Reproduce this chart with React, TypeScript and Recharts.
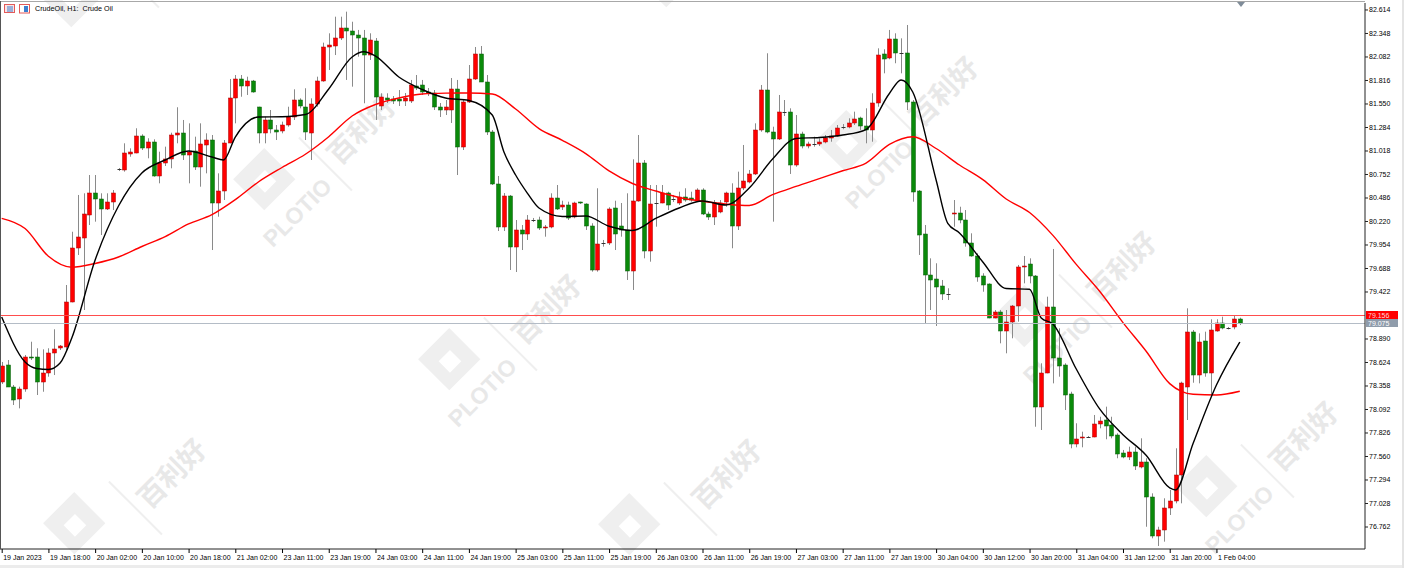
import { Bar, ComposedChart, Line, ReferenceLine, XAxis, YAxis } from "recharts";

// CrudeOil H1 bars (bar 0 = 19 Jan 10:00)
const opens = [
  78.407, 78.596, 78.35, 78.207, 78.321, 78.69, 78.683, 78.407, 78.502, 78.728,
  78.788, 78.803, 79.305, 79.923, 80.03, 80.293, 80.546, 80.471, 80.358, 80.444,
  80.811, 80.803, 80.984, 80.999, 81.191, 81.048, 81.123, 80.735, 80.879, 80.924,
  81.196, 81.218, 80.973, 81.021, 80.84, 81.086, 81.142, 80.433, 80.565, 81.105,
  81.621, 81.833, 81.754, 81.81, 81.513, 81.218, 81.369, 81.256, 81.244, 81.312,
  81.406, 81.595, 81.519, 81.225, 81.546, 81.81, 82.192, 82.206, 82.3, 82.413,
  82.38, 82.331, 82.293, 82.104, 82.266, 81.527, 81.621, 81.606, 81.61, 81.584,
  81.584, 81.754, 81.765, 81.689, 81.671, 81.519, 81.482, 81.482, 81.72, 81.06,
  81.576, 81.829, 82.116, 81.802, 81.23, 80.644, 80.161, 80.512, 79.935, 80.124,
  80.078, 80.237, 80.237, 80.143, 80.161, 80.489, 80.381, 80.407, 80.267, 80.441,
  80.418, 80.172, 79.671, 79.973, 79.973, 80.369, 80.169, 80.124, 79.663, 80.452,
  80.879, 79.889, 80.433, 80.433, 80.539, 80.475, 80.426, 80.501, 80.482, 80.455,
  80.576, 80.305, 80.267, 80.331, 80.444, 80.539, 80.169, 80.596, 80.67, 80.758,
  81.256, 81.708, 81.236, 81.15, 81.463, 81.463, 80.859, 81.21, 81.074, 81.097,
  81.094, 81.116, 81.162, 81.188, 81.293, 81.293, 81.331, 81.388, 81.301, 81.256,
  81.558, 82.112, 82.067, 82.286, 82.131, 82.131, 81.576, 80.568, 80.075, 79.614,
  79.566, 79.493, 79.399, 80.301, 80.313, 80.237, 79.98, 79.833, 79.603, 79.509,
  79.131, 79.192, 78.984, 79.086, 79.263, 79.708, 79.735, 79.603, 78.124, 78.508,
  79.249, 78.671, 78.596, 78.267, 77.701, 77.766, 77.784, 77.784, 77.928, 77.973,
  77.916, 77.803, 77.596, 77.558, 77.607, 77.444, 77.501, 77.105, 76.66, 76.728,
  76.974, 77.056, 77.351, 78.343, 78.973, 78.482, 78.867, 78.502, 78.984, 79.068,
  79.011, 79.022, 79.116,
];

const highs = [
  78.63, 78.652, 78.369, 78.35, 78.709, 78.859, 78.785, 78.773, 78.785, 79.0,
  78.822, 79.501, 80.104, 80.52, 80.539, 80.746, 80.746, 80.539, 80.539, 80.576,
  80.825, 81.105, 81.048, 81.275, 81.207, 81.162, 81.15, 81.01, 81.067, 81.225,
  81.513, 81.369, 81.331, 81.18, 81.331, 81.218, 81.199, 80.765, 81.142, 81.833,
  81.878, 81.878, 81.859, 81.822, 81.519, 81.406, 81.482, 81.312, 81.35, 81.519,
  81.716, 81.614, 81.728, 81.614, 81.859, 82.244, 82.35, 82.538, 82.538, 82.595,
  82.481, 82.388, 82.388, 82.35, 82.297, 81.671, 81.671, 81.64, 81.708, 81.674,
  81.822, 81.878, 81.822, 81.731, 81.708, 81.561, 81.595, 81.844, 81.822, 81.595,
  81.991, 82.195, 82.206, 81.878, 81.256, 80.735, 80.542, 80.52, 80.237, 80.18,
  80.293, 80.26, 80.274, 80.18, 80.539, 80.633, 80.455, 80.444, 80.444, 80.444,
  80.426, 80.2, 80.596, 80.011, 80.381, 80.455, 80.429, 80.539, 80.924, 81.199,
  80.916, 80.633, 80.633, 80.633, 80.557, 80.52, 80.557, 80.596, 80.557, 80.596,
  80.596, 80.331, 80.463, 80.463, 80.557, 80.652, 80.784, 81.086, 80.803, 81.331,
  81.765, 82.124, 81.293, 81.652, 81.595, 81.501, 81.425, 81.236, 81.123, 81.18,
  81.162, 81.199, 81.256, 81.312, 81.323, 81.388, 81.463, 81.406, 81.501, 81.671,
  82.18, 82.169, 82.388, 82.35, 82.293, 82.444, 81.595, 80.576, 80.18, 79.803,
  79.747, 79.558, 79.464, 80.463, 80.387, 80.35, 80.086, 79.86, 79.634, 79.52,
  79.218, 79.218, 79.218, 79.275, 79.728, 79.829, 79.803, 79.614, 78.615, 79.369,
  79.909, 79.011, 78.615, 78.293, 77.936, 77.841, 77.792, 78.03, 78.01, 78.124,
  78.01, 77.823, 77.634, 77.671, 77.671, 77.766, 77.54, 77.143, 76.765, 77.087,
  77.181, 77.653, 78.407, 79.237, 78.992, 78.954, 78.973, 79.113, 79.113, 79.142,
  79.026, 79.161, 79.131,
];

const lows = [
  78.381, 78.35, 78.143, 78.105, 78.293, 78.652, 78.256, 78.293, 78.463, 78.482,
  78.765, 78.765, 79.305, 79.841, 79.218, 80.18, 80.218, 80.067, 80.35, 80.35,
  80.791, 80.784, 80.953, 80.992, 81.029, 80.935, 80.727, 80.652, 80.848, 80.822,
  81.105, 80.916, 80.652, 80.803, 80.614, 80.765, 79.897, 80.274, 80.463, 81.105,
  81.331, 81.632, 81.652, 81.678, 81.105, 81.105, 81.218, 81.142, 81.218, 81.293,
  81.369, 81.501, 81.142, 80.916, 81.519, 81.802, 81.935, 82.104, 82.274, 81.822,
  81.746, 82.085, 81.558, 82.048, 81.369, 81.482, 81.561, 81.55, 81.527, 81.527,
  81.561, 81.708, 81.652, 81.64, 81.482, 81.403, 81.425, 81.335, 80.746, 81.029,
  81.561, 81.822, 81.799, 81.199, 80.633, 80.112, 80.112, 79.671, 79.648, 79.897,
  80.011, 80.214, 80.124, 80.048, 80.143, 80.35, 80.35, 80.237, 80.256, 80.418,
  80.124, 79.652, 79.652, 79.935, 79.954, 79.897, 80.048, 79.558, 79.445, 80.444,
  79.803, 79.765, 80.161, 80.426, 80.35, 80.441, 80.407, 80.444, 80.444, 80.444,
  80.293, 80.237, 80.18, 80.313, 80.387, 79.917, 80.124, 80.576, 80.652, 80.746,
  81.236, 81.218, 80.218, 81.142, 81.414, 80.758, 80.84, 81.048, 81.048, 81.067,
  81.074, 81.105, 81.123, 81.18, 81.264, 81.275, 81.312, 81.256, 81.105, 81.123,
  81.519, 81.897, 82.056, 82.011, 81.897, 81.482, 80.444, 79.841, 79.068, 79.218,
  79.037, 79.331, 79.331, 80.161, 80.2, 79.935, 79.821, 79.538, 79.425, 79.124,
  79.124, 78.841, 78.728, 78.898, 79.086, 79.52, 79.52, 77.897, 77.86, 78.502,
  78.388, 78.463, 78.086, 77.653, 77.664, 77.664, 77.775, 77.777, 77.879, 77.755,
  77.766, 77.54, 77.54, 77.52, 77.407, 77.426, 76.765, 76.634, 76.547, 76.596,
  76.898, 77.03, 77.03, 77.973, 78.395, 78.388, 78.463, 78.245, 78.973, 79.0,
  78.998, 79.0, 79.048,
];

const closes = [
  78.584, 78.35, 78.199, 78.321, 78.69, 78.671, 78.407, 78.502, 78.728, 78.78,
  78.811, 79.312, 79.923, 80.041, 80.301, 80.546, 80.471, 80.358, 80.444, 80.539,
  80.811, 80.992, 81.003, 81.188, 81.048, 81.123, 80.735, 80.879, 80.924, 81.196,
  81.218, 80.973, 81.01, 80.84, 81.094, 81.142, 80.433, 80.565, 81.105, 81.621,
  81.833, 81.754, 81.81, 81.689, 81.218, 81.369, 81.264, 81.236, 81.312, 81.406,
  81.595, 81.527, 81.236, 81.546, 81.81, 82.192, 82.218, 82.3, 82.413, 82.38,
  82.331, 82.293, 82.104, 82.274, 81.632, 81.632, 81.595, 81.584, 81.584, 81.621,
  81.765, 81.731, 81.689, 81.671, 81.519, 81.482, 81.519, 81.72, 81.06, 81.576,
  81.829, 82.116, 81.802, 81.23, 80.644, 80.161, 80.512, 79.935, 80.124, 80.078,
  80.237, 80.237, 80.143, 80.161, 80.489, 80.361, 80.407, 80.256, 80.433, 80.426,
  80.169, 79.671, 79.962, 79.973, 80.361, 80.078, 80.124, 79.663, 80.452, 80.879,
  79.889, 80.418, 80.433, 80.539, 80.407, 80.475, 80.501, 80.463, 80.463, 80.576,
  80.305, 80.267, 80.433, 80.433, 80.546, 80.169, 80.596, 80.678, 80.758, 81.256,
  81.708, 81.236, 81.15, 81.456, 81.463, 80.859, 81.21, 81.074, 81.094, 81.097,
  81.116, 81.162, 81.188, 81.282, 81.293, 81.331, 81.377, 81.301, 81.256, 81.558,
  82.104, 82.056, 82.286, 82.131, 82.131, 81.576, 80.557, 80.067, 79.614, 79.558,
  79.482, 79.399, 79.399, 80.313, 80.237, 79.98, 79.833, 79.595, 79.501, 79.131,
  79.192, 78.984, 79.086, 79.267, 79.708, 79.72, 79.603, 78.124, 78.508, 79.256,
  78.671, 78.584, 78.256, 77.701, 77.755, 77.784, 77.784, 77.928, 77.962, 77.909,
  77.792, 77.588, 77.558, 77.607, 77.452, 77.501, 77.105, 76.66, 76.728, 76.974,
  77.056, 77.351, 78.395, 78.973, 78.482, 78.859, 78.502, 78.992, 79.068, 79.011,
  79.011, 79.116, 79.075,
];

// moving averages as drawn on the chart: [bar index, price]
const fastMa: [number, number][] = [
  [0, 79.139], [4, 78.63], [6, 78.556], [8, 78.545], [10, 78.618], [12, 78.901],
  [16, 79.784], [20, 80.395], [24, 80.769], [28, 80.916], [32, 81.018], [36, 80.95],
  [38, 80.916], [40, 81.176], [44, 81.403], [48, 81.406], [52, 81.431], [56, 81.72],
  [60, 82.082], [62, 82.141], [64, 82.093], [68, 81.856], [72, 81.714], [76, 81.618],
  [80, 81.59], [84, 81.425], [86, 81.007], [88, 80.746], [90, 80.542], [92, 80.373],
  [96, 80.277], [100, 80.282], [104, 80.166], [108, 80.118], [112, 80.254], [116, 80.373],
  [120, 80.452], [124, 80.407], [128, 80.599], [132, 80.927], [136, 81.16], [140, 81.171],
  [144, 81.199], [148, 81.261], [152, 81.669], [154, 81.822], [156, 81.686], [160, 80.69],
  [162, 80.199], [164, 80.09], [168, 79.762], [172, 79.462], [176, 79.453], [178, 79.128],
  [180, 79.06], [184, 78.55], [188, 78.098], [192, 77.807], [196, 77.571], [200, 77.204],
  [201, 77.181], [204, 77.707], [208, 78.369], [212, 78.856],
];

const slowMa: [number, number][] = [
  [0, 80.256], [4, 80.14], [8, 79.826], [12, 79.702], [16, 79.745], [20, 79.818],
  [24, 79.937], [28, 80.048], [32, 80.192], [36, 80.297], [40, 80.467], [44, 80.67],
  [48, 80.831], [52, 80.981], [56, 81.18], [60, 81.414], [64, 81.544], [68, 81.618],
  [72, 81.663], [76, 81.673], [80, 81.675], [84, 81.663], [88, 81.493], [92, 81.271],
  [96, 81.139], [100, 80.989], [104, 80.792], [108, 80.65], [112, 80.565], [116, 80.492],
  [120, 80.449], [128, 80.401], [132, 80.523], [136, 80.617], [140, 80.705], [144, 80.794],
  [148, 80.881], [152, 81.092], [156, 81.179], [160, 81.046], [164, 80.859], [168, 80.694],
  [172, 80.475], [176, 80.322], [180, 80.063], [184, 79.734], [188, 79.43], [192, 79.076],
  [196, 78.749], [200, 78.385], [202, 78.296], [204, 78.264], [208, 78.256], [212, 78.298],
];

// one time label every 8 bars
const timeLabels = [
  "19 Jan 2023", "19 Jan 18:00", "20 Jan 02:00", "20 Jan 10:00", "20 Jan 18:00",
  "21 Jan 02:00", "23 Jan 11:00", "23 Jan 19:00", "24 Jan 03:00", "24 Jan 11:00",
  "24 Jan 19:00", "25 Jan 03:00", "25 Jan 11:00", "25 Jan 19:00", "26 Jan 03:00",
  "26 Jan 11:00", "26 Jan 19:00", "27 Jan 03:00", "27 Jan 11:00", "27 Jan 19:00",
  "30 Jan 04:00", "30 Jan 12:00", "30 Jan 20:00", "31 Jan 04:00", "31 Jan 12:00",
  "31 Jan 20:00", "1 Feb 04:00",
];

const priceTicks = [
  82.614, 82.348, 82.082, 81.816, 81.55, 81.284, 81.018, 80.752, 80.486, 80.22,
  79.954, 79.688, 79.422, 78.89, 78.624, 78.358, 78.092, 77.826, 77.56, 77.294,
  77.028, 76.762,
];

const askPrice = 79.156;
const bidPrice = 79.075;

const fastByBar = new Map(fastMa);
const slowByBar = new Map(slowMa);

const rows = opens.map((open, i) => ({
  i,
  open,
  high: highs[i],
  low: lows[i],
  close: closes[i],
  range: [lows[i], highs[i]],
  fast: fastByBar.get(i) ?? null,
  slow: slowByBar.get(i) ?? null,
}));

const timeTicks = timeLabels.map((_, k) => k * 8);

const FONT = '"Liberation Sans", Arial, sans-serif';

const Candle = (props: any) => {
  const { x, y, width, height, payload } = props;
  if (!payload) return null;
  const { open, close, high, low } = payload;
  const top = Math.min(y, y + height);
  const h = Math.abs(height);
  const span = high - low || 1;
  const at = (v: number) => top + ((high - v) / span) * h;
  const cx = Math.round(x + width / 2);
  const bodyTop = Math.round(at(Math.max(open, close)));
  const bodyBottom = Math.round(at(Math.min(open, close)));
  const up = close > open;

  return (
    <g>
      <line x1={cx + 0.5} x2={cx + 0.5} y1={top} y2={top + h} stroke="#8a8a8a" strokeWidth={1} />
      {Math.abs(close - open) < 0.001 ? (
        <line x1={cx - 1.5} x2={cx + 2.5} y1={bodyTop + 0.5} y2={bodyTop + 0.5} stroke="#333" strokeWidth={1} />
      ) : (
        <rect
          x={cx - 1.5}
          y={bodyTop}
          width={4}
          height={Math.max(1, bodyBottom - bodyTop)}
          fill={up ? "#ff0000" : "#0a8a0a"}
          stroke={up ? "#a80000" : "#0a5c0a"}
          strokeWidth={0.5}
        />
      )}
    </g>
  );
};

const TimeTick = (props: any) => {
  const { x, y, payload } = props;
  const label = timeLabels[Math.round(payload.value / 8)];
  return (
    <g>
      <line x1={x + 0.5} x2={x + 0.5} y1={y} y2={y + 4} stroke="#000" />
      <text x={x + 1.5} y={y + 10.5} fontSize={7} fill="#000" textAnchor="start">
        {label}
      </text>
    </g>
  );
};

// price line + tag on the price scale, drawn from the reference line's viewBox
const PriceTag = ({ viewBox, fill, lineColor, textFill, value }: any) => {
  if (!viewBox) return null;
  const x = viewBox.x + viewBox.width + 1;
  const y = Math.round(viewBox.y) + 0.5;
  return (
    <g>
      <line x1={viewBox.x} x2={viewBox.x + viewBox.width} y1={y} y2={y} stroke={lineColor} strokeWidth={1} />
      <rect x={x} y={y - 4.5} width={32} height={8} fill={fill} />
      <text x={x + 2} y={y + 2} fontSize={7} fill={textFill}>
        {value}
      </text>
    </g>
  );
};

// faint broker watermark along a diagonal grid; words that would run off the page are left out
const watermarkSpots: [number, number, boolean, boolean][] = [
  [137, -13, false, false],
  [330, 170, true, true],
  [515, 350, true, true],
  [695, 515, false, true],
  [732, -33, false, false],
  [912, 132, true, true],
  [1090, 307, true, true],
  [1272, 477, true, true],
  [-40, 332, false, false],
  [140, 514, false, true],
];

const Watermark = ({ x, y, plotio, hanzi }: { x: number; y: number; plotio: boolean; hanzi: boolean }) => (
  <div
    style={{
      position: "absolute",
      left: x - 120,
      top: y - 60,
      width: 240,
      height: 120,
      transform: "rotate(-45deg)",
      pointerEvents: "none",
    }}
  >
    <div style={{ position: "absolute", left: 45, top: -2, width: 44, height: 44, background: "#efefef" }} />
    <div style={{ position: "absolute", left: 58, top: 14, width: 16, height: 16, background: "#fff" }} />
    {plotio && (
      <div
        style={{
          position: "absolute",
          left: 17,
          top: 54,
          width: 100,
          textAlign: "center",
          fontSize: 23,
          fontWeight: 700,
          color: "#e8e8e8",
          fontFamily: FONT,
        }}
      >
        PLOTIO
      </div>
    )}
    <div style={{ position: "absolute", left: 120, top: 15, width: 1.5, height: 75, background: "#efefef" }} />
    {hanzi && (
      <div
        style={{
          position: "absolute",
          left: 126,
          top: 32,
          width: 90,
          textAlign: "center",
          fontSize: 28,
          fontWeight: 700,
          color: "#e8e8e8",
          fontFamily: '"Noto Sans CJK SC", sans-serif',
          lineHeight: "40px",
        }}
      >
        百利好
      </div>
    )}
  </div>
);

const App = () => {
  return (
    <div
      style={{
        position: "absolute",
        left: 0,
        top: 0,
        width: 1404,
        height: 568,
        background: "#fff",
        overflow: "hidden",
        fontFamily: FONT,
      }}
    >
      {watermarkSpots.map(([x, y, plotio, hanzi]) => (
        <Watermark key={`${x}-${y}`} x={x} y={y} plotio={plotio} hanzi={hanzi} />
      ))}

      <div style={{ position: "absolute", left: 0, top: 0 }}>
        <ComposedChart width={1404} height={568} data={rows} margin={{ top: 3, right: 0, bottom: 0, left: 0 }}>
          <XAxis
            dataKey="i"
            type="number"
            domain={[-0.291, 233.44]}
            allowDataOverflow
            ticks={timeTicks}
            interval={0}
            tick={<TimeTick />}
            tickLine={false}
            tickSize={0}
            tickMargin={0}
            height={19}
            axisLine={{ stroke: "#222" }}
          />
          <YAxis
            orientation="right"
            type="number"
            domain={[76.513, 82.693]}
            allowDataOverflow
            ticks={priceTicks}
            interval={0}
            width={39}
            tickSize={3}
            tickMargin={1}
            tick={{ fontSize: 7, fill: "#000" }}
            tickLine={{ stroke: "#222" }}
            axisLine={{ stroke: "#222" }}
            tickFormatter={(v) => Number(v).toFixed(3)}
          />
          <Bar dataKey="range" barSize={4} shape={<Candle />} isAnimationActive={false} />
          <Line
            dataKey="slow"
            type="monotone"
            stroke="#ff0000"
            strokeWidth={1.4}
            dot={false}
            activeDot={false}
            connectNulls
            isAnimationActive={false}
          />
          <Line
            dataKey="fast"
            type="monotone"
            stroke="#000"
            strokeWidth={1.4}
            dot={false}
            activeDot={false}
            connectNulls
            isAnimationActive={false}
          />
          <ReferenceLine
            y={askPrice}
            strokeOpacity={0}
            label={<PriceTag fill="#ff0000" lineColor="#ff4d4d" textFill="#ffd6d6" value={askPrice.toFixed(3)} />}
          />
          <ReferenceLine
            y={bidPrice}
            strokeOpacity={0}
            label={<PriceTag fill="#8f9cab" lineColor="#b4bcc6" textFill="#ffffff" value={bidPrice.toFixed(3)} />}
          />
        </ComposedChart>
      </div>

      {/* window frame */}
      <div style={{ position: "absolute", left: 0, top: 1, width: 1365, height: 1, background: "#a8a8a8" }} />
      <div style={{ position: "absolute", left: 0, top: 1, width: 1, height: 548, background: "#555" }} />
      <div style={{ position: "absolute", left: 0, top: 565, width: 1404, height: 3, background: "#ececec" }} />
      <div style={{ position: "absolute", left: 1402, top: 0, width: 2, height: 568, background: "#e4e4e4" }} />
      <div
        style={{
          position: "absolute",
          left: 1237,
          top: 2,
          width: 0,
          height: 0,
          borderLeft: "4px solid transparent",
          borderRight: "4px solid transparent",
          borderTop: "5px solid #7f8c99",
        }}
      />

      {/* chart title */}
      <svg style={{ position: "absolute", left: 4, top: 4 }} width={28} height={10}>
        <rect x={0.5} y={0.5} width={10} height={8} fill="#fbe3e3" stroke="#e25a5a" />
        <line x1={3} x2={9} y1={3} y2={3} stroke="#3b7fd0" />
        <line x1={3} x2={9} y1={5} y2={5} stroke="#3b7fd0" />
        <line x1={3} x2={9} y1={7} y2={7} stroke="#3b7fd0" />
        <rect x={15.5} y={0.5} width={10} height={8.5} fill="#fff" stroke="#e25a5a" />
        <rect x={20} y={2} width={4} height={6} fill="#3b7fd0" />
      </svg>
      <div
        style={{
          position: "absolute",
          left: 35,
          top: 4,
          fontSize: 7.2,
          lineHeight: "10px",
          color: "#000",
          whiteSpace: "pre",
        }}
      >
        {"CrudeOil, H1:  Crude Oil"}
      </div>
    </div>
  );
};

export default App;
